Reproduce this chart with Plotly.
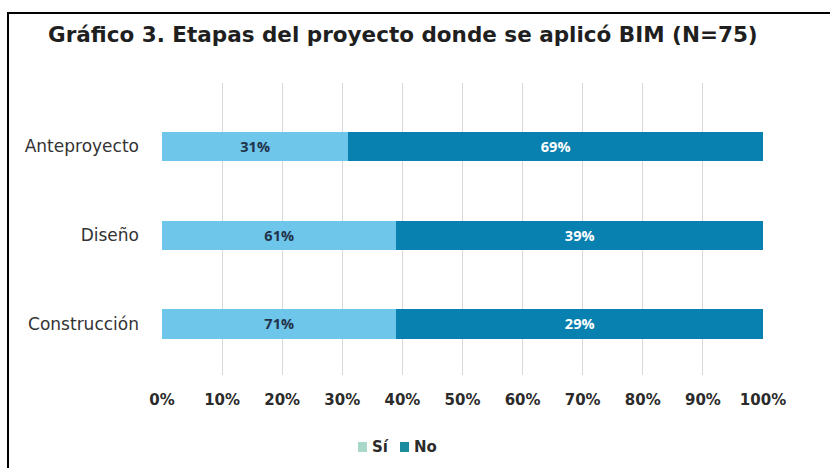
import plotly.graph_objects as go

categories = ["Anteproyecto", "Diseño", "Construcción"]
si_values = [31, 39, 39]          # bar lengths as drawn
no_values = [69, 61, 61]
si_labels = ["31%", "61%", "71%"]  # labels as printed
no_labels = ["69%", "39%", "29%"]
tick_vals = [0, 10, 20, 30, 40, 50, 60, 70, 80, 90, 100]
tick_text = [f"{v}%" for v in tick_vals]
series_names = ["Sí", "No"]

BAR_SI = "#6ec6ea"
BAR_NO = "#0880b0"
LEG_SI = "#a9d8cb"
LEG_NO = "#1a8c9e"
FONT = "DejaVu Sans"
LFONT = "Open Sans"

# plot area in pixels
PL, PR, PT, PB = 162, 763, 83, 375
W, H = 830, 468


def px(x):
    return (x - PL) / (PR - PL)


def py(y):
    return 1 - (y - PT) / (PB - PT)


fig = go.Figure()
fig.add_trace(go.Bar(
    y=categories, x=si_values, orientation="h", name=series_names[0],
    marker=dict(color=BAR_SI, line=dict(width=0)),
    text=si_labels, textposition="inside", insidetextanchor="middle",
    textfont=dict(family=LFONT, size=14.5, color="#22334a", weight="bold"),
    width=0.33, showlegend=False, hoverinfo="skip"))
fig.add_trace(go.Bar(
    y=categories, x=no_values, orientation="h", name=series_names[1],
    marker=dict(color=BAR_NO, line=dict(width=0)),
    text=no_labels, textposition="inside", insidetextanchor="middle",
    textfont=dict(family=LFONT, size=14.5, color="white", weight="bold"),
    width=0.33, showlegend=False, hoverinfo="skip"))

shapes = [dict(type="rect", xref="paper", yref="paper",
               x0=px(8), x1=px(845), y0=py(485), y1=py(13),
               line=dict(color="black", width=2), fillcolor="rgba(0,0,0,0)",
               layer="above")]
annotations = []
# custom legend (swatch colours differ from bars in the original)
for name, col, sx in [(series_names[0], LEG_SI, 358), (series_names[1], LEG_NO, 400)]:
    shapes.append(dict(type="rect", xref="paper", yref="paper",
                       x0=px(sx), x1=px(sx + 9), y0=py(452), y1=py(442),
                       line=dict(width=0), fillcolor=col))
    annotations.append(dict(text=name, xref="paper", yref="paper",
                            x=px(sx + 12), y=py(447), xanchor="left", yanchor="middle",
                            showarrow=False,
                            font=dict(family=FONT, size=15, color="#2b2b2b", weight="bold")))

fig.update_layout(
    barmode="stack",
    width=W, height=H,
    margin=dict(l=PL, r=W - PR, t=PT, b=H - PB),
    paper_bgcolor="white", plot_bgcolor="white",
    font=dict(family=FONT, color="#333333"),
    title=dict(text="Gráfico 3. Etapas del proyecto donde se aplicó BIM (N=75)",
               xref="container", yref="container", x=48 / W, xanchor="left",
               y=1 - 34 / H, yanchor="middle",
               font=dict(family=FONT, size=21.5, color="#1f1f1f", weight="bold")),
    xaxis=dict(range=[0, 100], tickvals=tick_vals, ticktext=tick_text,
               showgrid=True, gridcolor="#d9d9d9", gridwidth=1,
               zeroline=False, showline=False, ticks="",
               tickfont=dict(family=FONT, size=15, color="#2b2b2b", weight="bold"),
               ticklabelstandoff=14, fixedrange=True, automargin=False),
    yaxis=dict(categoryorder="array", categoryarray=categories,
               range=[2.575, -0.715], showgrid=False, zeroline=False,
               ticks="", tickfont=dict(family=FONT, size=17, color="#333333"),
               ticklabelstandoff=22, fixedrange=True, automargin=False),
    showlegend=False,
    shapes=shapes,
    annotations=annotations,
)

fig.write_html("out.html", config={"displayModeBar": False},
               post_script="document.body.style.margin='0';")
